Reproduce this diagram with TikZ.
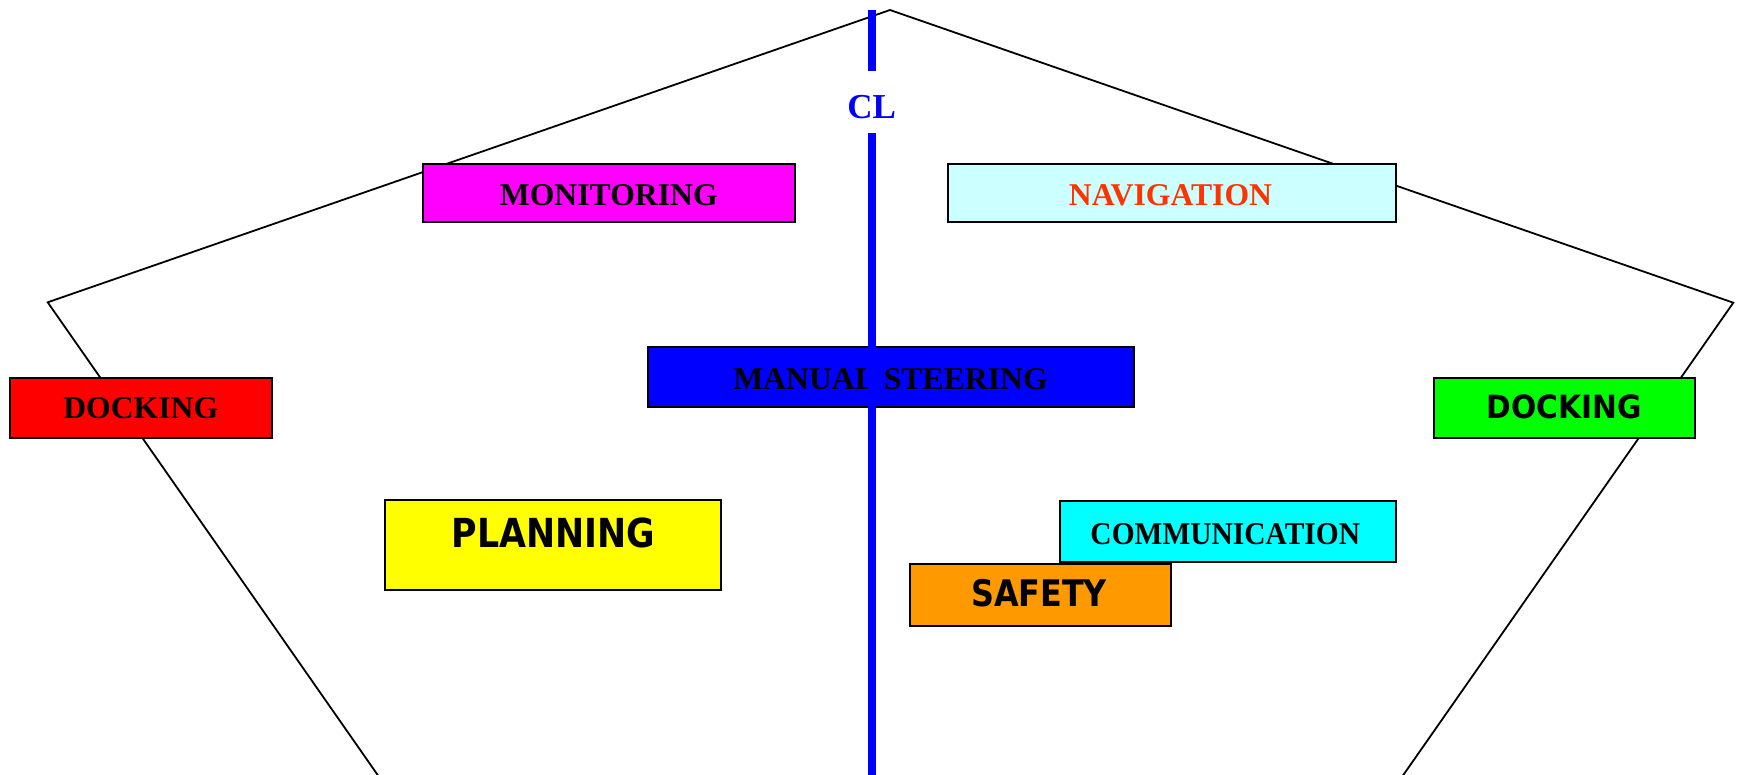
\documentclass[tikz,border=0pt]{standalone}
\usepackage{fontspec}
\setmainfont{Liberation Serif}
\newfontfamily\serifnarrow[FakeStretch=0.93]{Liberation Serif}
\newfontfamily\boldsans[FakeStretch=0.87]{DejaVu Sans}
\newfontfamily\boldsanswide[FakeStretch=0.93]{DejaVu Sans}

\definecolor{monfill}{HTML}{FF00FF}
\definecolor{navfill}{HTML}{CCFFFF}
\definecolor{navtext}{HTML}{FF3300}
\definecolor{steerfill}{HTML}{0000FF}
\definecolor{dockred}{HTML}{FF0000}
\definecolor{dockgreen}{HTML}{00FF00}
\definecolor{planfill}{HTML}{FFFF00}
\definecolor{commfill}{HTML}{00FFFF}
\definecolor{safefill}{HTML}{FF9900}
\definecolor{clblue}{HTML}{0000FF}

\begin{document}
\begin{tikzpicture}[x=1pt, y=-1pt,
  hull/.style={draw=black, line width=1.8pt, line join=miter},
  box/.style={draw=black, line width=2pt, rectangle, inner sep=0pt},
  txt/.style={inner sep=0pt, anchor=base},
  serifbold/.style={font=\fontsize{31.7}{38}\selectfont\bfseries},
  centreline/.style={draw=clblue, line width=8pt, line cap=butt}]

\useasboundingbox (0,0) rectangle (1739,774);
\clip (0,0) rectangle (1739,774);

% hull outline (open at the bottom)
\coordinate (apex) at (890,10);
\coordinate (shoulderL) at (47.7,302.3);
\coordinate (shoulderR) at (1733.3,302.7);
\coordinate (footL) at (381.2,780);
\coordinate (footR) at (1399.8,780);
\draw[hull] (footL) -- (shoulderL) -- (apex) -- (shoulderR) -- (footR);

% function boxes
\node[box, fill=monfill, minimum width=372.5pt, minimum height=58pt] (mon) at (608.9,193.3) {};
\node[txt, serifbold] (montext) at (608.8,205) {MONITORING};

\node[box, fill=navfill, minimum width=448pt, minimum height=58pt] (nav) at (1171.7,193.3) {};
\node[txt, serifbold, text=navtext] (navtext) at (1170.5,205) {NAVIGATION};

\node[box, fill=steerfill, minimum width=486.3pt, minimum height=59.7pt] (steer) at (890.8,376.8) {};
\node[txt, serifbold] (steertext) at (890.5,389.3) {MANUAL STEERING};

\node[box, fill=dockred, minimum width=261.4pt, minimum height=59.7pt] (dockL) at (141,407.8) {};
\node[txt, serifbold] (dockLtext) at (140.8,418.3) {DOCKING};

\node[box, fill=dockgreen, minimum width=261.3pt, minimum height=60pt] (dockR) at (1564.3,408) {};
\node[txt, font=\boldsanswide\fontsize{32}{38}\selectfont\bfseries] (dockRtext) at (1564.5,418.3) {DOCKING};

\node[box, fill=planfill, minimum width=336.3pt, minimum height=89.7pt] (plan) at (553.2,545.2) {};
\node[txt, font=\boldsans\fontsize{40}{46}\selectfont\bfseries] (plantext) at (553.3,547.7) {PLANNING};

\node[box, fill=commfill, minimum width=335.8pt, minimum height=61pt] (comm) at (1227.6,531.2) {};
\node[txt, font=\serifnarrow\fontsize{31.7}{38}\selectfont\bfseries] (commtext) at (1225.3,544.5) {COMMUNICATION};

\node[box, fill=safefill, minimum width=261pt, minimum height=62pt] (safe) at (1040.5,594.6) {};
\node[txt, font=\boldsans\fontsize{36.6}{42}\selectfont\bfseries] (safetext) at (1039,606.2) {SAFETY};

% centre line, drawn over the boxes, broken for its label
\coordinate (clTop) at (871.7,10);
\coordinate (clGapTop) at (871.7,70.7);
\coordinate (clGapBot) at (871.7,132.7);
\coordinate (clBottom) at (871.7,780);
\draw[centreline] (clTop) -- (clGapTop);
\draw[centreline] (clGapBot) -- (clBottom);
\node[txt, font=\fontsize{35}{40}\selectfont\bfseries, text=clblue] (cl) at (871.7,118.3) {CL};

\end{tikzpicture}
\end{document}
